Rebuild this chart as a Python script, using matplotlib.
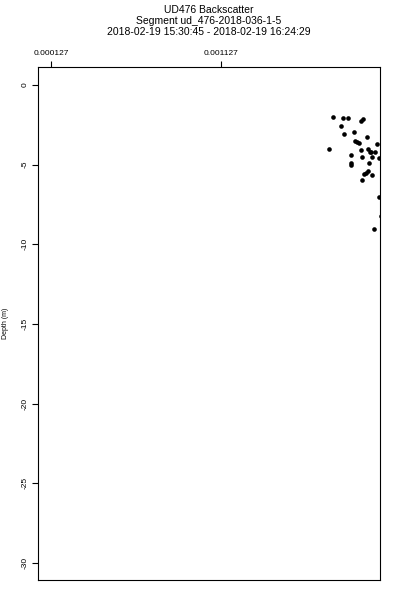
import matplotlib
matplotlib.use('Agg')
import matplotlib.pyplot as plt

plt.rcParams['font.family'] = ['Liberation Sans', 'DejaVu Sans']
plt.rcParams['axes.unicode_minus'] = False

# backscatter values and depths
backscatter = [0.001788, 0.001843, 0.001872, 0.001951, 0.001964, 0.001835, 0.001851,
               0.001909, 0.001986, 0.001915, 0.001925, 0.001937, 0.002045, 0.001763,
               0.001951, 0.001993, 0.002003, 0.002009, 0.002035, 0.001892, 0.001955,
               0.002013, 0.002058, 0.001892, 0.001894, 0.001996, 0.001968, 0.001978,
               0.001992, 0.002015, 0.001958, 0.002055, 0.002066, 0.002027]
depth = [-1.99, -2.09, -2.05, -2.24, -2.15, -2.59, -3.08, -2.93, -3.25, -3.52, -3.60,
         -3.64, -3.70, -4.04, -4.06, -4.00, -4.19, -4.22, -4.19, -4.38, -4.50, -4.54,
         -4.56, -4.88, -5.00, -4.90, -5.59, -5.51, -5.42, -5.63, -5.98, -7.01, -8.24,
         -9.02]

xticks = [0.000127, 0.001127]
xtick_labels = ['0.000127', '0.001127']
yticks = [0, -5, -10, -15, -20, -25, -30]
ytick_labels = ['0', '-5', '-10', '-15', '-20', '-25', '-30']

fig = plt.figure(figsize=(4, 6), dpi=100)
ax = fig.add_axes([0.095, 0.0333, 0.855, 0.855])

ax.scatter(backscatter, depth, s=11, c='black', marker='o', linewidths=0)

ax.set_xlim(0.0000505, 0.002062)
ax.set_ylim(-31.07, 1.13)

ax.xaxis.tick_top()
ax.set_xticks(xticks)
ax.set_xticklabels(xtick_labels, fontsize=6)
ax.set_yticks(yticks)
ax.set_yticklabels(ytick_labels, fontsize=6, rotation=90, va='center')
ax.tick_params(axis='both', direction='out', length=4, width=0.8, pad=3)
for s in ax.spines.values():
    s.set_linewidth(0.8)

ax.set_ylabel('Depth (m)', fontsize=5)
ax.yaxis.set_label_coords(-0.085, 0.5)

fig.text(0.5225, 1 - 21 / 600,
         'UD476 Backscatter\nSegment ud_476-2018-036-1-5\n2018-02-19 15:30:45 - 2018-02-19 16:24:29',
         ha='center', va='center', fontsize=7.5, linespacing=1.17)

fig.savefig('out.png', dpi=100)
